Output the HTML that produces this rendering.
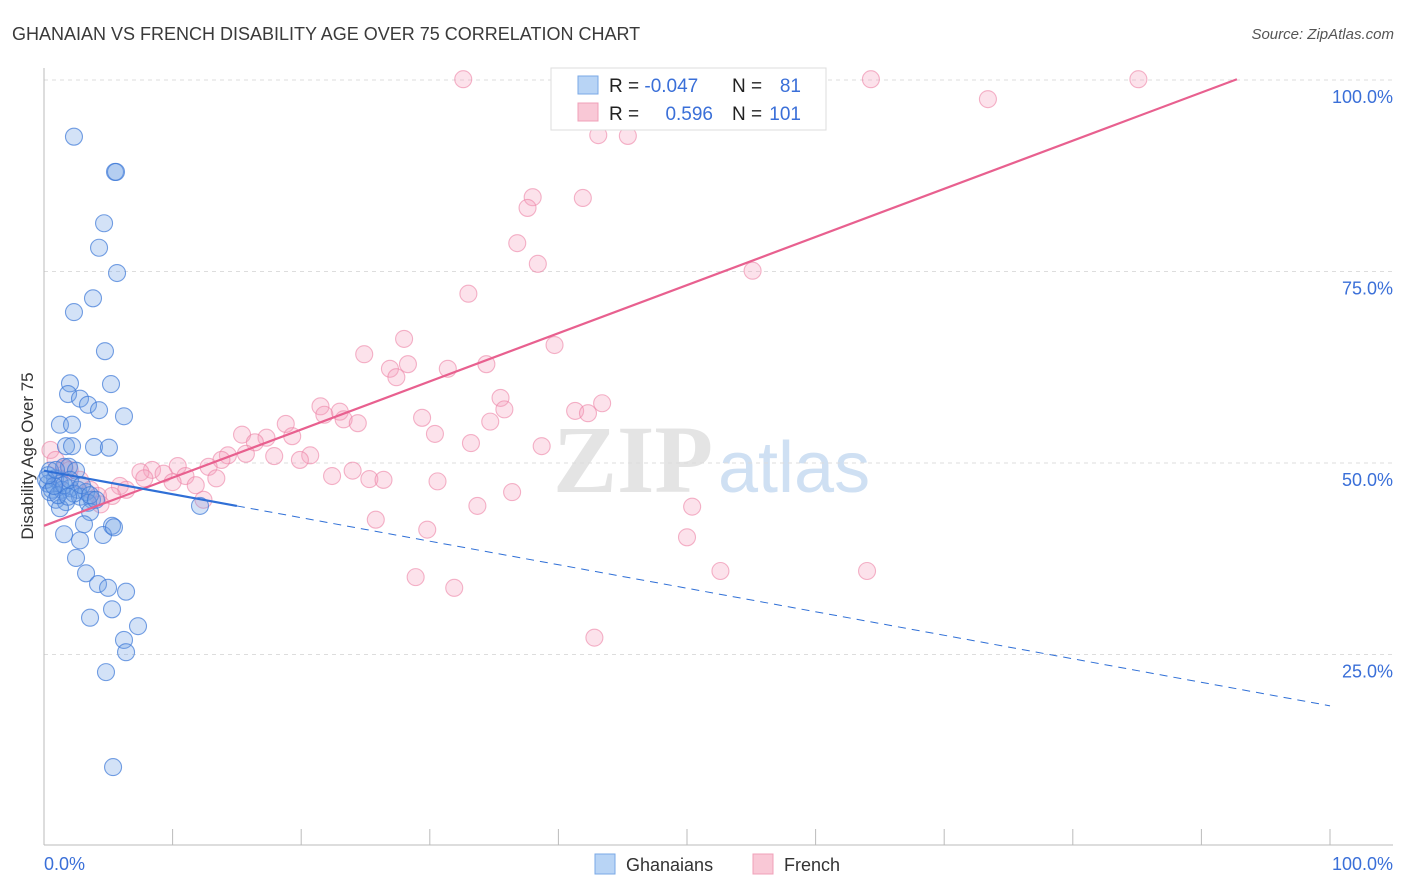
<!DOCTYPE html>
<html><head><meta charset="utf-8"><style>
body{margin:0;background:#fff;font-family:"Liberation Sans",sans-serif;}
svg{display:block}
</style></head><body>
<svg id="chart" width="1406" height="892">
<text x="12" y="40" font-size="18" fill="#3a3a3a">GHANAIAN VS FRENCH DISABILITY AGE OVER 75 CORRELATION CHART</text>
<text x="1394" y="39" font-size="15" fill="#555" font-style="italic" text-anchor="end">Source: ZipAtlas.com</text>
<text transform="translate(33,456) rotate(-90)" font-size="17" fill="#333" text-anchor="middle">Disability Age Over 75</text>
<g>
<text x="553" y="492" font-size="96" font-family="Liberation Serif,serif" fill="#e4e4e4" font-weight="bold">ZIP</text>
<text x="718" y="492" font-size="72" fill="#cfe0f3">atlas</text>
</g>
<g id="grid"></g><g id="axes"></g><g id="pts"></g><g id="lines"></g>
<g>
<rect x="551" y="68" width="275" height="62" fill="#fff" stroke="#ddd"/>
<rect x="578" y="76" width="20" height="18" fill="#b8d4f5" stroke="#7aa8e6"/>
<rect x="578" y="103" width="20" height="18" fill="#f9c8d6" stroke="#f0a0b8"/>
<text x="609" y="92" font-size="19" fill="#222">R = <tspan fill="#3a6fd8">-0.047</tspan></text>
<text x="732" y="92" font-size="19" fill="#222">N =</text><text x="801" y="92" font-size="19" fill="#3a6fd8" text-anchor="end">81</text>
<text x="609" y="120" font-size="19" fill="#222">R = </text><text x="713" y="120" font-size="19" fill="#3a6fd8" text-anchor="end">0.596</text>
<text x="732" y="120" font-size="19" fill="#222">N =</text><text x="801" y="120" font-size="19" fill="#3a6fd8" text-anchor="end">101</text>
</g>
<g>
<rect x="595" y="854" width="20" height="20" fill="#b8d4f5" stroke="#7aa8e6"/>
<text x="626" y="871" font-size="18" fill="#333">Ghanaians</text>
<rect x="753" y="854" width="20" height="20" fill="#f9c8d6" stroke="#f0a0b8"/>
<text x="784" y="871" font-size="18" fill="#333">French</text>
</g>
</svg>
<script>
const yTicks=[25,50,75,100];
const yTickLabels=["25.0%","50.0%","75.0%","100.0%"];
const xTickLabels=["0.0%","100.0%"];
const blueX=[2.33,5.52,5.6,4.67,4.28,5.68,3.81,2.33,4.74,2.02,5.21,1.87,2.8,3.42,4.28,6.22,1.24,2.18,1.71,2.18,3.89,5.05,1.56,1.94,2.49,0.47,0.86,1.24,0.31,0.62,1.4,2.02,2.64,3.27,3.73,0.93,1.71,2.8,3.42,12.13,1.24,3.58,5.29,3.11,1.56,4.59,2.8,5.44,2.49,3.27,4.2,4.98,6.38,5.29,3.58,7.31,6.22,6.38,4.82,5.37,0.16,0.47,1.09,1.56,2.02,2.33,0.78,2.95,3.58,4.04,1.87,0.31,0.93];
const blueY=[92.6,88.0,88.0,81.3,78.1,74.8,71.5,69.7,64.6,60.4,60.3,59.0,58.4,57.6,56.9,56.1,55.0,55.0,52.2,52.2,52.1,52.0,49.5,49.5,49.0,49.0,48.0,47.3,47.3,46.5,46.5,46.7,46.5,46.2,45.2,45.2,44.9,45.6,44.8,44.4,44.1,43.6,41.8,42.0,40.7,40.6,39.9,41.6,37.6,35.6,34.2,33.7,33.2,30.9,29.8,28.7,26.9,25.3,22.7,10.3,47.8,46.2,45.8,47.1,47.8,46.0,47.0,47.1,45.8,45.2,45.6,48.4,49.1];
const pinkX=[32.6,40.4,46.6,54.0,56.6,64.3,85.1,73.4,43.1,45.4,38.0,41.9,37.6,36.8,38.4,55.1,33.0,28.0,24.9,39.7,34.4,28.3,26.9,31.4,27.4,43.4,35.5,21.5,18.8,35.8,41.3,23.0,21.8,42.3,29.4,23.3,24.4,34.7,15.4,19.3,17.3,30.4,16.4,33.2,38.7,14.3,15.7,17.9,20.7,19.9,13.8,12.8,10.4,8.4,7.5,9.3,11.0,24.0,22.4,7.8,10.0,13.4,25.3,26.4,30.6,11.8,5.9,6.4,5.3,4.2,12.4,4.4,36.4,33.7,25.8,29.8,50.4,50.0,52.6,64.0,28.9,31.9,42.8,0.5,0.9,1.6,2.0,2.8,3.6,1.2];
const pinkY=[100.1,100.1,100.1,100.1,100.1,100.1,100.1,97.5,92.8,92.7,84.7,84.6,83.3,78.7,76.0,75.1,72.1,66.2,64.2,65.4,62.9,62.9,62.3,62.3,61.2,57.8,58.5,57.4,55.1,57.0,56.8,56.7,56.3,56.5,55.9,55.7,55.2,55.4,53.7,53.5,53.3,53.8,52.7,52.6,52.2,51.0,51.2,50.9,51.0,50.4,50.4,49.5,49.6,49.1,48.8,48.6,48.3,49.0,48.3,48.0,47.5,48.0,47.9,47.8,47.6,47.1,47.0,46.5,45.7,45.7,45.2,44.6,46.2,44.4,42.6,41.3,44.3,40.3,35.9,35.9,35.1,33.7,27.2,51.7,50.4,49.3,49.1,47.8,46.5,48.0];
const blueFit=[49.0,-0.307];
const pinkFit=[41.8,0.6285];
const NS="http://www.w3.org/2000/svg";
const X0=44,X1=1330,Y0=846,Y100=80;
const sx=v=>X0+v*(X1-X0)/100, sy=v=>Y0-v*(Y0-Y100)/100;
function mk(t,a,p){const e=document.createElementNS(NS,t);for(const k in a)e.setAttribute(k,a[k]);document.getElementById(p).appendChild(e);return e;}
yTicks.forEach((t,i)=>{
 const g=mk('line',{x1:44,x2:1393,y1:sy(t),y2:sy(t),stroke:'#ddd','stroke-dasharray':'4,4'},'grid');
 
 
 const l=mk('text',{x:1393,y:sy(t)+23,'font-size':18,fill:'#3a6fd8','text-anchor':'end'},'grid');l.textContent=yTickLabels[i];
 
 
});
let ax=mk('line',{x1:44,x2:44,y1:68,y2:845,stroke:'#bbb'},'axes');


ax=mk('line',{x1:44,x2:1393,y1:845,y2:845,stroke:'#bbb'},'axes');


for(let i=0;i<=10;i++){const t=mk('line',{x1:sx(i*10),x2:sx(i*10),y1:829,y2:845,stroke:'#bbb'},'axes');
 
 }
[[0,'start',44],[100,'end',1393]].forEach((d,i)=>{const t=mk('text',{x:d[2],y:870,'font-size':18,fill:'#3a6fd8','text-anchor':d[1]},'axes');t.textContent=xTickLabels[i];
 
 });
function pts(xs,ys,fill,stroke,name){xs.forEach((x,i)=>{const c=mk('circle',{cx:sx(x),cy:sy(ys[i]),r:8.5,fill:fill,stroke:stroke,'stroke-width':1.1},'pts');
 
 });}
pts(pinkX,pinkY,'rgba(244,160,188,0.3)','rgba(236,130,165,0.6)','french-point');
pts(blueX,blueY,'rgba(110,160,230,0.3)','rgba(60,120,215,0.7)','ghanaian-point');
const pe=(100.1-pinkFit[0])/pinkFit[1];
let ln=mk('line',{x1:sx(0),y1:sy(pinkFit[0]),x2:sx(pe),y2:sy(pinkFit[0]+pinkFit[1]*pe),stroke:'#e8608f','stroke-width':2.2},'lines');


ln=mk('line',{x1:sx(0),y1:sy(blueFit[0]),x2:sx(15),y2:sy(blueFit[0]+blueFit[1]*15),stroke:'#2f6fd6','stroke-width':2.2},'lines');


ln=mk('line',{x1:sx(15),y1:sy(blueFit[0]+blueFit[1]*15),x2:sx(100),y2:sy(blueFit[0]+blueFit[1]*100),stroke:'#2f6fd6','stroke-width':1,'stroke-dasharray':'8,6'},'lines');


</script>
</body></html>
